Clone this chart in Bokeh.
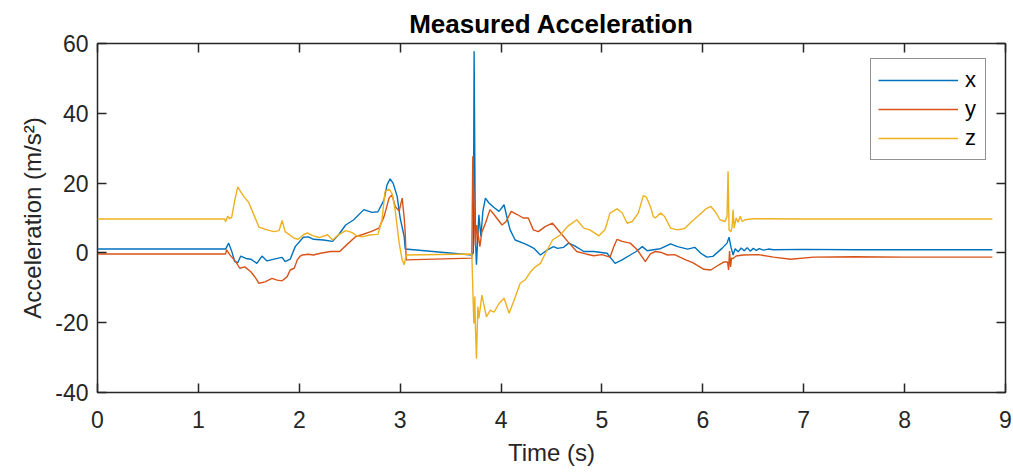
from bokeh.plotting import figure
from bokeh.models import Range1d, FixedTicker, LinearAxis
from bokeh.embed import file_html
from bokeh.resources import INLINE

# ---------------- data ----------------
x_ticks = [0, 1, 2, 3, 4, 5, 6, 7, 8, 9]
y_ticks = [-40, -20, 0, 20, 40, 60]
y_tick_labels = ["-40", "-20", "0", "20", "40", "60"]
title_text = "Measured Acceleration"

t_x = [0.00, 1.27, 1.30, 1.33, 1.36, 1.39, 1.42, 1.47, 1.52, 1.58,
       1.63, 1.68, 1.75, 1.83, 1.86, 1.91, 1.96, 2.04, 2.09, 2.14,
       2.24, 2.33, 2.39, 2.46, 2.54, 2.64, 2.72, 2.78, 2.84, 2.87,
       2.90, 2.93, 2.97, 3.00, 3.04, 3.05, 3.71, 3.725, 3.733, 3.745,
       3.756, 3.78, 3.80, 3.82, 3.845, 3.88, 3.93, 3.98, 4.03, 4.06,
       4.09, 4.14, 4.22, 4.28, 4.33, 4.39, 4.46, 4.52, 4.56, 4.62,
       4.67, 4.73, 4.82, 4.92, 5.05, 5.13, 5.20, 5.28, 5.34, 5.40,
       5.45, 5.51, 5.58, 5.68, 5.75, 5.85, 5.92, 5.98, 6.04, 6.10,
       6.19, 6.24, 6.26, 6.28, 6.30, 6.32, 6.35, 6.38, 6.41, 6.44,
       6.47, 6.50, 6.53, 6.56, 6.60, 6.65, 6.70, 7.00, 7.50, 8.00,
       8.50, 8.87]
acc_x = [1.1, 1.1, 2.8, 0.5, -2.5, -2.8, -0.9, -1.6, -1.8, -3.0,
         -0.9, -2.3, -1.8, -1.3, -2.5, -1.8, 1.8, 4.5, 4.6, 3.9,
         3.7, 3.3, 5.2, 8.0, 9.5, 12.4, 11.6, 11.8, 15.2, 19.5,
         21.2, 20.0, 16.2, 10.0, 4.7, 1.1, -0.6, 0.0, 57.8, 5.0,
         -3.4, 10.9, 4.7, 12.0, 15.7, 14.3, 13.0, 11.9, 13.8, 10.0,
         6.6, 3.7, 2.8, 2.0, 1.2, -0.6, 0.9, 1.8, 1.3, 1.6,
         2.8, 2.0, 0.4, 0.4, -0.1, -3.0, -2.0, -0.6, 0.4, 1.8,
         0.6, 0.9, 1.2, 2.6, 1.8, 1.1, 1.6, -0.1, -1.2, -1.0,
         1.3, 2.8, 4.5, 1.5, -0.6, 1.2, 0.3, 1.4, 0.6, 1.5,
         0.5, 1.3, 0.7, 1.2, 0.8, 1.1, 0.9, 1.0, 0.9, 0.9,
         0.9, 0.9]

t_y = [0.00, 1.27, 1.28, 1.31, 1.37, 1.41, 1.46, 1.52, 1.57, 1.60,
       1.66, 1.73, 1.78, 1.83, 1.88, 1.91, 1.95, 1.98, 2.01, 2.03,
       2.09, 2.14, 2.21, 2.31, 2.40, 2.47, 2.56, 2.62, 2.71, 2.79,
       2.84, 2.89, 2.92, 2.95, 2.99, 3.02, 3.04, 3.05, 3.06, 3.71,
       3.72, 3.735, 3.745, 3.76, 3.79, 3.81, 3.845, 3.89, 3.93, 4.01,
       4.05, 4.10, 4.16, 4.22, 4.27, 4.32, 4.37, 4.44, 4.51, 4.59,
       4.66, 4.75, 4.84, 4.92, 5.00, 5.08, 5.12, 5.15, 5.20, 5.28,
       5.35, 5.43, 5.48, 5.53, 5.58, 5.65, 5.72, 5.83, 5.90, 6.01,
       6.08, 6.16, 6.21, 6.245, 6.255, 6.265, 6.275, 6.285, 6.30, 6.33,
       6.40, 6.55, 6.70, 6.87, 7.10, 7.50, 8.00, 8.50, 8.87]
acc_y = [-0.3, -0.3, 0.9, -0.5, -2.5, -4.4, -4.0, -5.4, -7.3, -8.7,
         -8.3, -7.3, -7.8, -8.0, -6.8, -4.9, -4.4, -2.0, -0.9, -0.6,
         -0.4, -0.6, -0.1, 0.4, 0.4, 2.3, 4.7, 5.2, 6.1, 7.1,
         10.4, 15.7, 16.7, 13.3, 12.0, 15.7, 10.0, 5.7, -2.0, -1.5,
         27.7, 11.4, 2.0, 8.0, 1.8, 6.0, 8.5, 12.4, 11.0, 8.0,
         9.0, 11.9, 11.0, 10.0, 10.0, 6.6, 6.1, 7.6, 8.5, 5.7,
         3.3, 0.4, -0.3, -0.8, -0.5, -1.2, 2.0, 3.9, 3.3, 2.8,
         0.9, -2.5, -0.3, 0.4, 0.2, -0.6, -0.5, -2.0, -2.8, -4.7,
         -4.9, -3.4, -2.6, -2.6, -4.9, 0.5, -4.0, -1.5, -1.6, -0.9,
         -0.6, -0.5, -1.2, -1.8, -1.2, -1.1, -1.2, -1.2, -1.2]

t_z = [0.00, 1.26, 1.27, 1.29, 1.31, 1.33, 1.36, 1.39, 1.42, 1.45,
       1.50, 1.55, 1.60, 1.68, 1.75, 1.80, 1.83, 1.86, 1.95, 1.99,
       2.04, 2.08, 2.14, 2.20, 2.28, 2.33, 2.38, 2.46, 2.52, 2.57,
       2.62, 2.71, 2.78, 2.82, 2.85, 2.89, 2.92, 2.95, 2.99, 3.02,
       3.04, 3.06, 3.71, 3.73, 3.74, 3.745, 3.756, 3.77, 3.78, 3.81,
       3.855, 3.895, 3.93, 3.98, 4.03, 4.08, 4.13, 4.19, 4.24, 4.29,
       4.34, 4.39, 4.44, 4.51, 4.59, 4.66, 4.75, 4.82, 4.88, 4.97,
       5.03, 5.08, 5.15, 5.20, 5.25, 5.30, 5.36, 5.41, 5.44, 5.48,
       5.51, 5.53, 5.58, 5.62, 5.68, 5.75, 5.82, 5.89, 5.95, 6.03,
       6.08, 6.13, 6.17, 6.22, 6.24, 6.25, 6.26, 6.28, 6.29, 6.30,
       6.31, 6.33, 6.35, 6.37, 6.39, 6.42, 6.50, 7.00, 7.50, 8.00,
       8.50, 8.87]
acc_z = [9.7, 9.7, 8.9, 10.5, 9.8, 10.2, 15.0, 18.9, 17.5, 16.2,
         14.4, 10.9, 7.4, 6.6, 6.1, 6.4, 9.3, 6.1, 4.2, 3.9,
         5.2, 5.7, 4.9, 4.4, 5.2, 3.7, 5.0, 6.4, 5.9, 4.9,
         4.6, 5.2, 5.3, 9.5, 17.6, 18.3, 17.0, 12.4, 2.8, -2.0,
         -3.4, -0.6, -0.3, -20.2, -12.5, -20.2, -30.3, -15.4, -18.8, -12.1,
         -18.3, -16.4, -17.0, -14.5, -13.0, -17.3, -13.5, -8.7, -7.7, -5.5,
         -4.0, -3.0, -0.1, 3.7, 5.2, 7.6, 9.5, 7.1, 6.6, 4.9,
         6.6, 11.4, 12.6, 11.5, 8.5, 9.0, 11.4, 16.4, 16.0, 13.3,
         10.4, 10.0, 11.4, 10.5, 7.1, 6.6, 7.0, 9.0, 10.5, 12.6,
         13.3, 11.5, 9.5, 9.0, 10.5, 23.4, 6.6, 6.1, 7.5, 12.4,
         7.1, 10.0, 8.8, 10.5, 9.0, 9.5, 9.8, 9.7, 9.7, 9.7,
         9.7, 9.7]

series_names = ["x", "y", "z"]
series_colors = ["#0072BD", "#D95319", "#EDB120"]

assert len(t_x) == len(acc_x) and len(t_y) == len(acc_y) and len(t_z) == len(acc_z)

# ---------------- figure ----------------
FONT = "Liberation Sans"
AX = "#262626"

p = figure(width=1013, height=472, x_range=Range1d(0, 9), y_range=Range1d(-40, 60),
           output_backend="svg", toolbar_location=None,
           min_border_left=97, min_border_right=8, min_border_top=43, min_border_bottom=80,
           title=title_text)
p.background_fill_color = "white"
p.border_fill_color = "white"
p.outline_line_color = AX
p.outline_line_width = 1.5
p.grid.visible = False

p.title.text_font = FONT
p.title.text_font_size = "26px"
p.title.text_font_style = "bold"
p.title.text_color = "black"
p.title.align = "center"
p.title.standoff = 10

for ax in (p.xaxis[0], p.yaxis[0]):
    ax.axis_line_color = None
    ax.major_tick_in = 9
    ax.major_tick_out = 0
    ax.major_tick_line_color = AX
    ax.major_tick_line_width = 1.5
    ax.minor_tick_line_color = None
    ax.major_label_text_font = FONT
    ax.major_label_text_font_size = "23px"
    ax.major_label_text_color = AX
    ax.axis_label_text_font = FONT
    ax.axis_label_text_font_size = "24px"
    ax.axis_label_text_font_style = "normal"
    ax.axis_label_text_color = AX

p.xaxis[0].ticker = FixedTicker(ticks=x_ticks)
p.yaxis[0].ticker = FixedTicker(ticks=y_ticks)
p.yaxis[0].major_label_overrides = dict(zip(y_ticks, y_tick_labels))
p.xaxis[0].axis_label = "Time (s)"
p.yaxis[0].axis_label = "Acceleration (m/s²)"
p.xaxis[0].major_label_standoff = 18
p.xaxis[0].axis_label_standoff = 8
p.yaxis[0].major_label_standoff = 9
p.yaxis[0].axis_label_standoff = 6

# tick marks on the top and right edges of the box (no labels)
top = LinearAxis(ticker=FixedTicker(ticks=x_ticks))
right = LinearAxis(ticker=FixedTicker(ticks=y_ticks))
top.major_label_overrides = {t: "" for t in x_ticks}
right.major_label_overrides = {t: "" for t in y_ticks}
for ax in (top, right):
    ax.axis_line_color = None
    ax.major_tick_in = 9
    ax.major_tick_out = 0
    ax.major_tick_line_color = AX
    ax.major_tick_line_width = 1.5
    ax.minor_tick_line_color = None
    ax.major_label_text_font_size = "1px"
    ax.major_label_standoff = 0
p.add_layout(top, "above")
p.add_layout(right, "right")

for t, a, name, col in ((t_x, acc_x, series_names[0], series_colors[0]),
                        (t_y, acc_y, series_names[1], series_colors[1]),
                        (t_z, acc_z, series_names[2], series_colors[2])):
    p.line(t, a, line_color=col, line_width=1.4, legend_label=name)

lg = p.legend[0]
lg.location = (773, 232)
lg.border_line_color = AX
lg.border_line_width = 1
lg.background_fill_color = "white"
lg.background_fill_alpha = 1
lg.padding = 7
lg.spacing = 1
lg.margin = 0
lg.glyph_width = 80
lg.glyph_height = 28
lg.label_height = 28
lg.label_width = 13
lg.label_standoff = 7
lg.label_text_font = FONT
lg.label_text_font_size = "22px"
lg.label_text_color = "black"

open("out.html", "w").write(file_html(p, INLINE))
